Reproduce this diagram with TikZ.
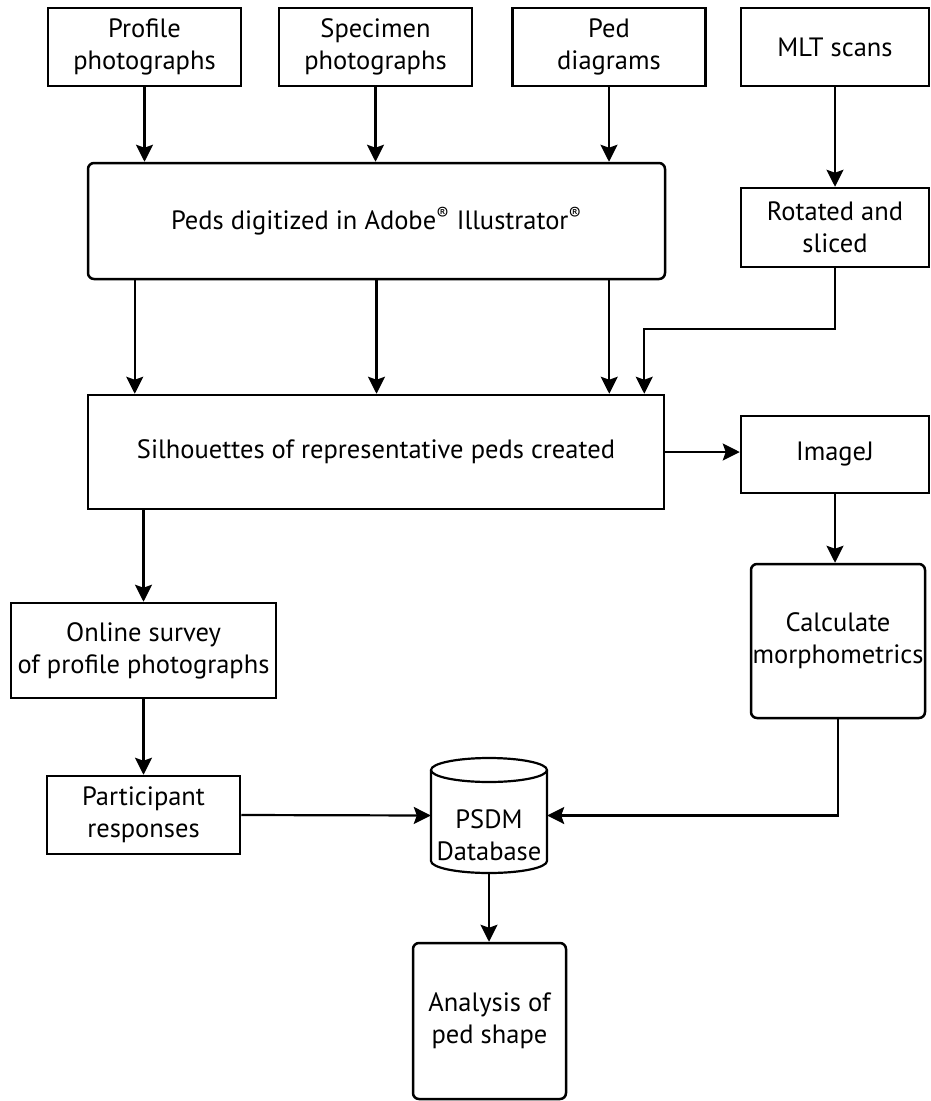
\documentclass[tikz,border=0pt]{standalone}
\usepackage{fontspec}
\setmainfont{PT Sans}
\usetikzlibrary{arrows.meta,calc}
\begin{document}
\begin{tikzpicture}[x=1pt,y=-1pt,
  every node/.style={font=\fontsize{26.5}{32}\selectfont, align=center, inner sep=0pt},
  box/.style={draw, line width=2.5pt, minimum width=193pt, minimum height=78pt},
  rbox/.style={box, rounded corners=6pt},
  arr/.style={line width=2.2pt, -{Stealth[length=17pt,width=17pt,inset=3pt]}},
  ln/.style={line width=2.2pt}]
\useasboundingbox (0,0) rectangle (930,1101);
% top row
\node[box] (prof) at (144.5,47) {Profile\\photographs};
\node[box] (spec) at (375.5,47) {Specimen\\photographs};
\node[box] (ped)  at (609,47) {Ped\\diagrams};
\node[box, minimum width=188pt] (mlt) at (835,47) {MLT scans};
% digitized
\node[rbox, minimum width=577pt, minimum height=116pt] (dig) at (376.5,221) {Peds digitized in Adobe\textsuperscript{®} Illustrator\textsuperscript{®}};
\node[box, minimum width=188pt, minimum height=79pt] (rot) at (835,227.5) {Rotated and\\sliced};
% silhouettes
\node[box, minimum width=576pt, minimum height=114pt] (sil) at (376,452) {Silhouettes of representative peds created};
\node[box, minimum width=188pt, minimum height=77pt] (imj) at (835,454.5) {ImageJ};
\node[rbox, minimum width=174pt, minimum height=154pt] (calc) at (838,641) {Calculate\\morphometrics};
% left column
\node[box, minimum width=265pt, minimum height=95pt] (online) at (143.5,650.5) {Online survey\\of profile photographs};
\node[box, minimum width=193pt, minimum height=78pt] (part) at (143.5,815) {Participant\\responses};
% database
\node[minimum width=116pt, minimum height=115pt] (db) at (489,815.5) {};
\draw[ln] (489,770) ellipse [x radius=58pt, y radius=12pt];
\draw[ln] (431,770) -- (431,861) arc[start angle=180, end angle=360, x radius=58pt, y radius=12pt] -- (547,770);
\node (dbt) at (489,835) {PSDM\\Database};
\node[rbox, minimum width=153pt, minimum height=156pt] (ana) at (489.5,1021) {Analysis of\\ped shape};
% connectors
\draw[arr] (prof.south) -- (prof.south |- dig.north);
\draw[arr] (spec.south) -- (spec.south |- dig.north);
\draw[arr] (ped.south) -- (ped.south |- dig.north);
\draw[arr] (mlt.south) -- (rot.north);
\draw[arr] ([xshift=48pt]dig.south west) -- ([xshift=48pt]sil.north west);
\draw[arr] (dig.south) -- (dig.south |- sil.north);
\draw[arr] ([xshift=-57pt]dig.south east) -- ([xshift=-56pt]sil.north east);
\draw[arr] (rot.south) -- ++(0,61) -| ([xshift=-21pt]sil.north east);
\draw[arr] (sil.east) -- (sil.east -| imj.west);
\draw[arr] (imj.south) -- (imj.south |- calc.north);
\draw[arr] (sil.south west -| online.north) -- (online.north);
\draw[arr] (online.south) -- (part.north);
\draw[arr] (part.east) -- (db.west);
\draw[arr] (calc.south) |- (db.east);
\draw[arr] (db.south) -- (db.south |- ana.north);
\end{tikzpicture}
\end{document}
